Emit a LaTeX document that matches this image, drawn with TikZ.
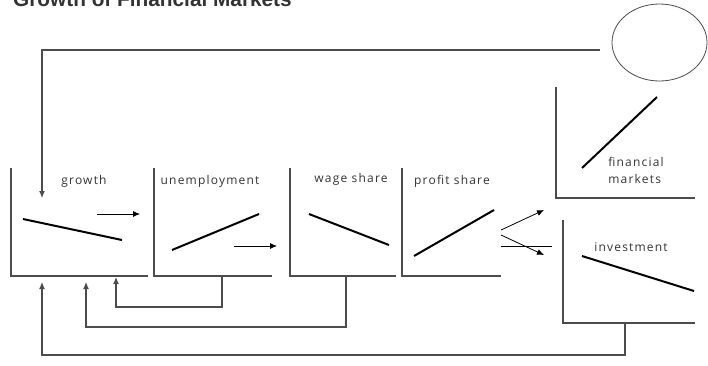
\documentclass[tikz,border=0pt]{standalone}
\usepackage{fontspec}
\usepackage{tikz}
\usetikzlibrary{arrows.meta, shapes.geometric, positioning}
\newfontfamily\labelfont[LetterSpace=10]{Open Sans}
\newfontfamily\titlefont{Liberation Sans}

\begin{document}
\begin{tikzpicture}[x=1pt,y=-1pt,>={Latex[length=7pt,width=6pt]},
  axis/.style={draw=black!70,line width=1.1pt},
  trend/.style={line width=2pt},
  shift arrow/.style={->,line width=0.8pt},
  loop line/.style={->,draw=black!70,line width=1.1pt},
  panel label/.style={font=\labelfont\fontsize{12}{17}\selectfont,text=black!80,inner sep=0pt}]

  \useasboundingbox (0,0) rectangle (708,365);

  \node[anchor=base west,inner sep=0pt,text=black!80,
    font=\titlefont\bfseries\fontsize{20.8}{24}\selectfont] (title) at (13,6.5) {Growth of Financial Markets};

  % panels
  \foreach \n/\x/\t/\b/\r in {grow/11/168/276/148, unemp/154/168/276/272, wage/290/168/276/396,
    profit/402/168/276/501, fin/556/87/198/695, inv/563/220/323/695} {
    \draw[axis] (\x,\t) coordinate (\n top) |- (\r,\b) coordinate (\n end);}

  % trends
  \foreach \xa/\ya/\xb/\yb in {23/219/122/240, 172/250/259/214, 309/214/389/245,
    414/256/494/210, 582/168/657/97, 582/256/694/291} {
    \draw[trend] (\xa,\ya) -- (\xb,\yb);}

  \node[panel label] (growth) at (84,181) {growth};
  \node[panel label] (unemployment) at (210,181) {unemployment};
  \node[panel label] (wage share) at (351,179) {wage share};
  \node[panel label] (profit share) at (452,181) {profit share};
  \node[panel label,align=left] (financial) at (636,170) {financial\\markets};
  \node[panel label] (investment) at (631,247) {investment};

  \node[ellipse,draw=black!70,line width=0.8pt,minimum width=95pt,minimum height=77pt,inner sep=0pt] (circ) at (659.5,42.5) {};

  \coordinate (g out) at (97,214);   \coordinate (u in) at (140,214);
  \coordinate (u out) at (234,246);  \coordinate (w in) at (277,246);
  \coordinate (p up) at (501,230);   \coordinate (f in) at (544,210);
  \coordinate (p down) at (501,235); \coordinate (i in) at (544,255);
  \coordinate (p mid) at (501,246);  \coordinate (i mid) at (552,246);

  \foreach \s/\t in {g out/u in, u out/w in, p up/f in, p down/i in} {
   \draw[shift arrow] (\s) -- (\t);}
  \draw[line width=0.8pt] (p mid) -- (i mid);

  % feedback
  \coordinate (top start) at (600,50);
  \coordinate (g top in) at (42,198);
  \coordinate (u fb) at (222,276);   \coordinate (g fb1) at (116,277);
  \coordinate (w fb) at (346,276);   \coordinate (g fb2) at (86,282);
  \coordinate (i fb) at (625,323);   \coordinate (g fb3) at (42,282);

  \draw[loop line] (top start) -| (g top in);
  \draw[loop line] (u fb) -- ++(0,31) -| (g fb1);
  \draw[loop line] (w fb) -- ++(0,51) -| (g fb2);
  \draw[loop line] (i fb) -- ++(0,32) -| (g fb3);
\end{tikzpicture}
\end{document}
